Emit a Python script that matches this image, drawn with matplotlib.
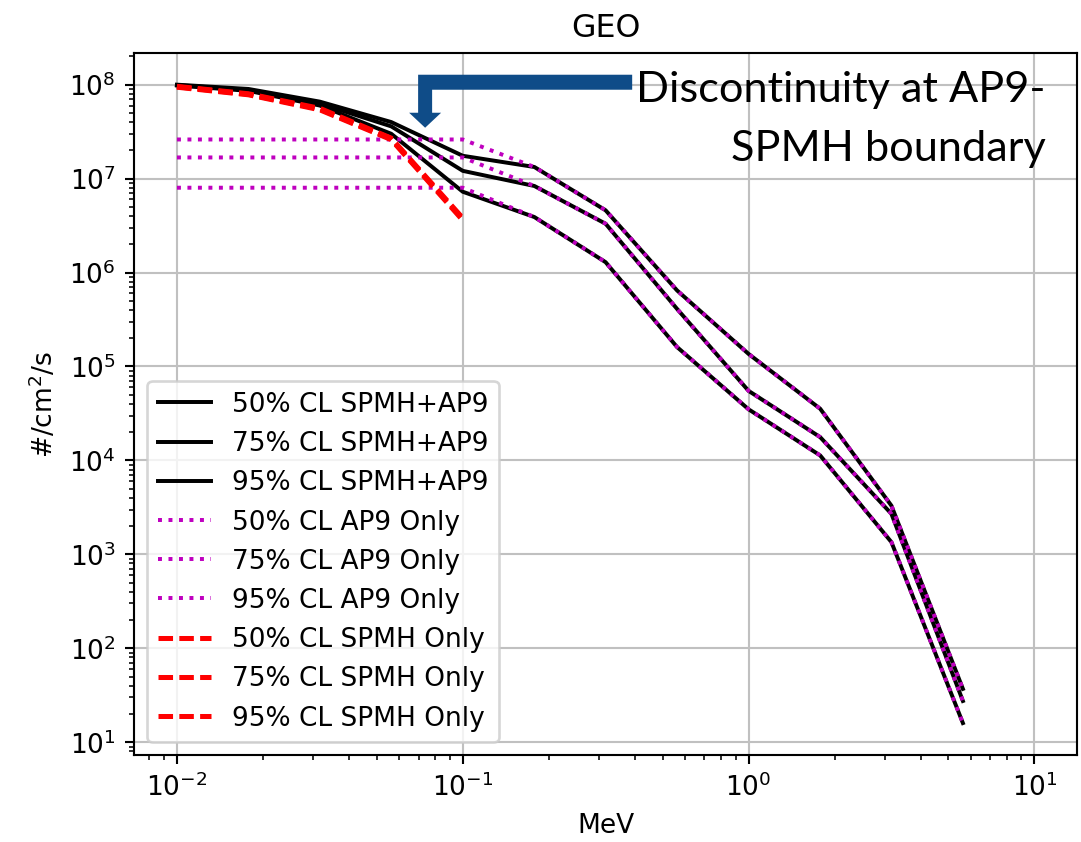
from matplotlib import pyplot as plt
from matplotlib.patches import Polygon

# energies (MeV)
energy = [0.01, 0.0178, 0.0316, 0.0562, 0.1, 0.178, 0.316, 0.562, 1.0, 1.78, 3.16, 5.62]
energy_spmh = [0.01, 0.0178, 0.0316, 0.0562, 0.1]

# SPMH+AP9 combined
comb_50 = [9.8e7, 8.6e7, 6.0e7, 3.0e7, 7.25e6, 3.9e6, 1.29e6, 1.61e5, 3.5e4, 1.13e4, 1.35e3, 16]
comb_75 = [9.9e7, 8.8e7, 6.3e7, 3.6e7, 1.21e7, 8.35e6, 3.31e6, 4.1e5, 5.5e4, 1.77e4, 2.7e3, 27.5]
comb_95 = [1.0e8, 9.0e7, 6.6e7, 4.0e7, 1.75e7, 1.33e7, 4.6e6, 6.45e5, 1.36e5, 3.55e4, 3.3e3, 37]

# AP9 only
ap9_50 = [8.0e6, 8.0e6, 8.0e6, 8.0e6, 8.0e6, 3.9e6, 1.29e6, 1.61e5, 3.5e4, 1.13e4, 1.35e3, 16]
ap9_75 = [1.68e7, 1.68e7, 1.68e7, 1.68e7, 1.68e7, 8.35e6, 3.31e6, 4.1e5, 5.5e4, 1.77e4, 2.7e3, 27.5]
ap9_95 = [2.61e7, 2.61e7, 2.61e7, 2.61e7, 2.61e7, 1.33e7, 4.6e6, 6.45e5, 1.36e5, 3.55e4, 3.3e3, 37]

# SPMH only
spmh_50 = [9.4e7, 7.8e7, 5.4e7, 2.6e7, 3.6e6]
spmh_75 = [9.5e7, 7.9e7, 5.5e7, 2.65e7, 3.7e6]
spmh_95 = [9.6e7, 8.0e7, 5.6e7, 2.7e7, 3.8e6]

cls = ['50%', '75%', '95%']

dpi = 190
fig = plt.figure(figsize=(1081.3 / dpi, 842.3 / dpi), dpi=dpi)
ax = fig.add_subplot(111)
fig.subplots_adjust(left=0.124, right=0.9963, top=0.937, bottom=0.1033)

for cl, y in zip(cls, [comb_50, comb_75, comb_95]):
    ax.plot(energy, y, 'k-', lw=1.5, label=cl + ' CL SPMH+AP9')
for cl, y in zip(cls, [ap9_50, ap9_75, ap9_95]):
    ax.plot(energy, y, 'm:', lw=1.5, label=cl + ' CL AP9 Only')
for cl, y in zip(cls, [spmh_50, spmh_75, spmh_95]):
    ax.plot(energy_spmh, y, color='r', lw=1.9, linestyle=(0, (2.9, 1.25)), label=cl + ' CL SPMH Only')

ax.set_xscale('log')
ax.set_yscale('log')
ax.set_xlim(10 ** -2.15, 10 ** 1.15)
ax.grid(True, color='#c0c0c0')
ax.set_title('GEO')
ax.set_xlabel('MeV')
ax.set_ylabel('#/cm$^2$/s')
ax.legend(loc='lower left')

# callout arrow + text pasted on top of the figure
px = [(632, 75), (418, 75), (418, 113), (409, 113), (425, 128), (441, 113),
      (432, 113), (432, 90), (632, 90)]
pts = [(x / 1081, 1 - y / 842) for x, y in px]
fig.patches.append(Polygon(pts, closed=True, transform=fig.transFigure,
                           facecolor='#0F4C88', edgecolor='none', zorder=10))
fig.text(1045 / 1081, 1 - 102 / 842, 'Discontinuity at AP9-', ha='right', va='baseline',
         family='Lato', fontsize=16.4, color='black')
fig.text(1045 / 1081, 1 - 161 / 842, 'SPMH boundary', ha='right', va='baseline',
         family='Lato', fontsize=16.4, color='black')

fig.savefig('out.png', dpi=dpi)
